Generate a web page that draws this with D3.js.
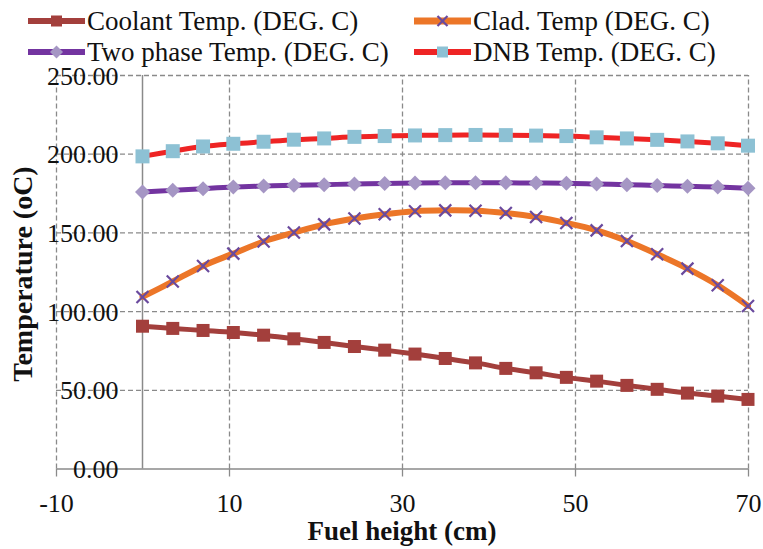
<!DOCTYPE html>
<html><head><meta charset="utf-8">
<script src="https://cdn.jsdelivr.net/npm/d3@7"></script>
<style>
body{margin:0;background:#fff;}
svg{display:block;font-family:"Liberation Serif","Times New Roman",serif;}
</style></head><body>
<svg id="c" width="763" height="549"></svg>
<script>
const heights = [0,3.5,7,10.5,14,17.5,21,24.5,28,31.5,35,38.5,42,45.5,49,52.5,56,59.5,63,66.5,70];
const coolant = [90.4,89.0,87.7,86.4,84.7,82.4,80.1,77.5,75.2,72.7,69.9,67.1,63.6,60.8,57.9,55.5,52.8,50.3,47.9,46.0,43.9];
const clad = [109.0,118.8,128.7,136.5,144.2,149.9,155.1,158.8,161.5,163.4,164.0,163.8,162.3,159.8,156.0,151.3,144.5,136.1,127.0,116.4,103.3];
const twoPhase = [175.6,176.7,177.8,178.8,179.4,179.9,180.3,180.8,181.1,181.4,181.5,181.5,181.5,181.4,181.3,180.8,180.3,179.8,179.3,178.8,178.0];
const dnb = [198.3,201.6,204.6,206.3,207.6,208.9,209.7,210.7,211.2,211.6,211.8,211.9,211.8,211.5,211.2,210.4,209.7,208.8,207.8,206.6,205.1];
const seriesNames = ["Coolant Temp. (DEG. C)","Clad. Temp (DEG. C)","Two phase Temp. (DEG. C)","DNB Temp. (DEG. C)"];
const xTicks = [-10,10,30,50,70];
const yTicks = [0,50,100,150,200,250];

const svg = d3.select("#c");
const x = d3.scaleLinear().domain([-10,70]).range([56,748]);
const y = d3.scaleLinear().domain([0,250]).range([468.5,75]);
const gridColor = "#8a8a8a";
const FONT = 26;

// horizontal gridlines
svg.append("g").attr("transform",`translate(${x(-10)},0)`)
  .call(d3.axisLeft(y).tickValues(yTicks.filter(v=>v>0)).tickSize(-(x(70)-x(-10))).tickFormat(""))
  .call(g=>g.select(".domain").remove())
  .call(g=>g.selectAll("line").attr("stroke",gridColor).attr("stroke-width",1.3).attr("stroke-dasharray","5,3"));
// vertical gridlines
svg.append("g").attr("transform",`translate(0,${y(0)})`)
  .call(d3.axisBottom(x).tickValues(xTicks).tickSize(-(y(0)-y(250))).tickFormat(""))
  .call(g=>g.select(".domain").remove())
  .call(g=>g.selectAll("line").attr("stroke",gridColor).attr("stroke-width",1.3).attr("stroke-dasharray","5,3"));
// y axis line at x=0
svg.append("line").attr("x1",x(0)).attr("x2",x(0)).attr("y1",y(250)).attr("y2",y(0))
  .attr("stroke",gridColor).attr("stroke-width",1.5);
// x axis
const xAxis = svg.append("g").attr("transform",`translate(0,${y(0)})`)
  .call(d3.axisBottom(x).tickValues(xTicks).tickSize(8).tickFormat(d=>String(d)).tickSizeOuter(0));
xAxis.select(".domain").attr("stroke",gridColor).attr("stroke-width",1.5);
xAxis.selectAll(".tick line").attr("stroke",gridColor).attr("stroke-width",1.3);
xAxis.selectAll("text").attr("font-size",FONT).attr("fill","#111").attr("font-family","Liberation Serif")
  .attr("y",43).attr("dy",0);
// y labels
const yAxis = svg.append("g").attr("transform",`translate(${x(0)},0)`)
  .call(d3.axisLeft(y).tickValues(yTicks).tickSize(0).tickPadding(24).tickFormat(d=>d.toFixed(2)));
yAxis.select(".domain").remove();
yAxis.selectAll("text").attr("font-size",FONT).attr("fill","#111").attr("font-family","Liberation Serif").attr("dy","0.35em");

// titles
svg.append("text").attr("x",402).attr("y",540).attr("text-anchor","middle")
  .attr("font-size",27).attr("font-weight","bold").attr("fill","#111").text("Fuel height (cm)");
svg.append("text").attr("transform","translate(32,274) rotate(-90)").attr("text-anchor","middle")
  .attr("font-size",28).attr("font-weight","bold").attr("fill","#111").text("Temperature (oC)");

const cfg = [
  {vals:coolant, line:"#A33F3C", lw:5, marker:"square", mfill:"#A33F3C", ms:13},
  {vals:clad, line:"#EC7628", lw:6, marker:"x", mfill:"#6A4A9E", ms:12},
  {vals:twoPhase, line:"#7334A0", lw:5, marker:"diamond", mfill:"#A596C4", ms:13},
  {vals:dnb, line:"#EE2424", lw:5, marker:"square", mfill:"#8DC1D4", ms:14}
];
const lineGen = d3.line().x(d=>x(d[0])).y(d=>y(d[1])).curve(d3.curveCatmullRom.alpha(0.5));

function drawMarker(g, type, cx, cy, c, s){
  const ms = s || c.ms;
  if(type==="square"){
    g.append("rect").attr("x",cx-ms/2).attr("y",cy-ms/2).attr("width",ms).attr("height",ms).attr("fill",c.mfill);
  } else if(type==="diamond"){
    const r=ms/2+1;
    g.append("path").attr("d",`M${cx},${cy-r}L${cx+r},${cy}L${cx},${cy+r}L${cx-r},${cy}Z`).attr("fill",c.mfill);
  } else {
    const r=ms/2;
    g.append("path").attr("d",`M${cx-r},${cy-r}L${cx+r},${cy+r}M${cx-r},${cy+r}L${cx+r},${cy-r}`)
      .attr("stroke",c.mfill).attr("stroke-width",2.2).attr("fill","none");
  }
}

cfg.forEach(c=>{
  const pts = heights.map((h,i)=>[h,c.vals[i]]);
  svg.append("path").datum(pts).attr("d",lineGen).attr("fill","none")
    .attr("stroke",c.line).attr("stroke-width",c.lw).attr("stroke-linecap","round");
  const g = svg.append("g");
  pts.forEach(p=>drawMarker(g,c.marker,x(p[0]),y(p[1]),c));
});

// legend
const legPos = [[28,21],[414,21],[28,52],[414,52]];
cfg.forEach((c,i)=>{
  const [lx,ly]=legPos[i];
  const g=svg.append("g");
  g.append("line").attr("x1",lx).attr("x2",lx+57).attr("y1",ly).attr("y2",ly)
    .attr("stroke",c.line).attr("stroke-width",c.lw+1);
  drawMarker(g,c.marker,lx+28.5,ly,c, c.marker==="x"?10:11);
  g.append("text").attr("x",lx+59).attr("y",ly).attr("dy","0.33em").attr("font-size",27)
    .attr("fill","#111").text(seriesNames[i]);
});
</script>
</body></html>
